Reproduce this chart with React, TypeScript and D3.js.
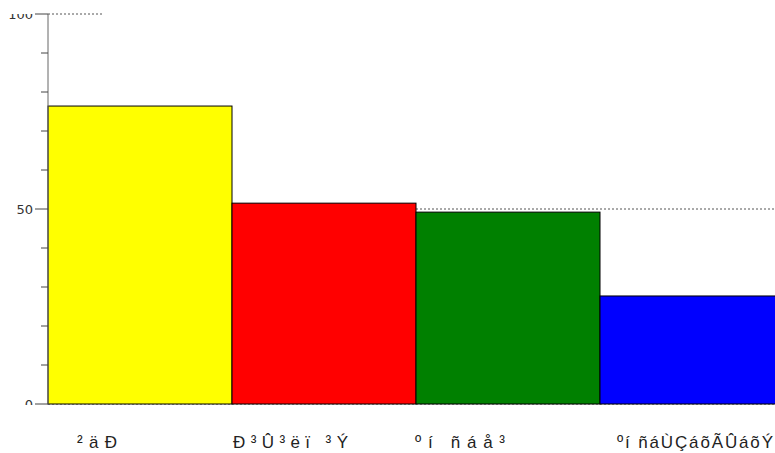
import React from "react";
import * as d3 from "d3";

const categories = ["²äÐ", "Ð³Û³ëï ³Ý", "ºí ñáå³", "ºí ñáÙÇáõÃÛáõÝ"];
const values = [76.4, 51.5, 49.2, 27.7];
const colors = ["#ffff00", "#ff0000", "#008000", "#0000ff"];
const majorTicks = [0, 50, 100];
const minorTicks = [10, 20, 30, 40, 60, 70, 80, 90];
const labelOffsets = [29, 1, -1, 17];
const labelWidths = [40, 115, 90, 156];

const W = 775;
const H = 453;
const left = 48;
const top = 14;
const bottom = 404;
const bandW = 184;

export default function App() {
  const y = d3.scaleLinear().domain([0, 100]).range([bottom, top]);
  const x = d3
    .scaleBand<string>()
    .domain(categories)
    .range([left, left + bandW * categories.length])
    .padding(0);

  return (
    <svg
      width={W}
      height={H}
      style={{ position: "absolute", left: 0, top: 0, display: "block", background: "#fff" }}
    >
      <defs>
        <clipPath id="plotClip">
          <rect x={0} y={top} width={W} height={bottom - top + 1} />
        </clipPath>
      </defs>
      {/* gridlines */}
      <line x1={left} x2={W} y1={y(50)} y2={y(50)} stroke="#555" strokeDasharray="2,2" strokeWidth={1} />
      <line x1={left} x2={left + 56} y1={y(100)} y2={y(100)} stroke="#555" strokeDasharray="2,2" strokeWidth={1} />
      <line x1={left} x2={W} y1={y(0)} y2={y(0)} stroke="#555" strokeDasharray="2,2" strokeWidth={1} />
      {/* bars */}
      {categories.map((c, i) => (
        <rect
          key={c}
          x={x(c)!}
          y={y(values[i])}
          width={x.bandwidth()}
          height={y(0) - y(values[i])}
          fill={colors[i]}
          stroke="#000"
          strokeWidth={1}
        />
      ))}
      {/* axis */}
      <line x1={left} x2={left} y1={y(100)} y2={y(0)} stroke="#666" strokeWidth={1} />
      {minorTicks.map((t) => (
        <line key={t} x1={left - 7} x2={left} y1={y(t)} y2={y(t)} stroke="#444" strokeWidth={1} />
      ))}
      {majorTicks.map((t) => (
        <line key={t} x1={left - 13} x2={left} y1={y(t)} y2={y(t)} stroke="#444" strokeWidth={1} />
      ))}
      <g clipPath="url(#plotClip)">
        {majorTicks.map((t) => (
          <text
            key={t}
            x={left - 15}
            y={y(t)}
            dy="0.35em"
            textAnchor="end"
            fontFamily="DejaVu Sans, sans-serif"
            fontSize={13}
            fill="#333"
          >
            {t}
          </text>
        ))}
      </g>
      {/* category labels */}
      {categories.map((c, i) => (
        <text
          key={c}
          x={x(c)! + labelOffsets[i]}
          y={448}
          textAnchor="start"
          fontFamily="'Liberation Sans', Arial, sans-serif"
          fontSize={17}
          textLength={labelWidths[i]}
          lengthAdjust="spacing"
          fill="#222"
        >
          {c}
        </text>
      ))}
    </svg>
  );
}
